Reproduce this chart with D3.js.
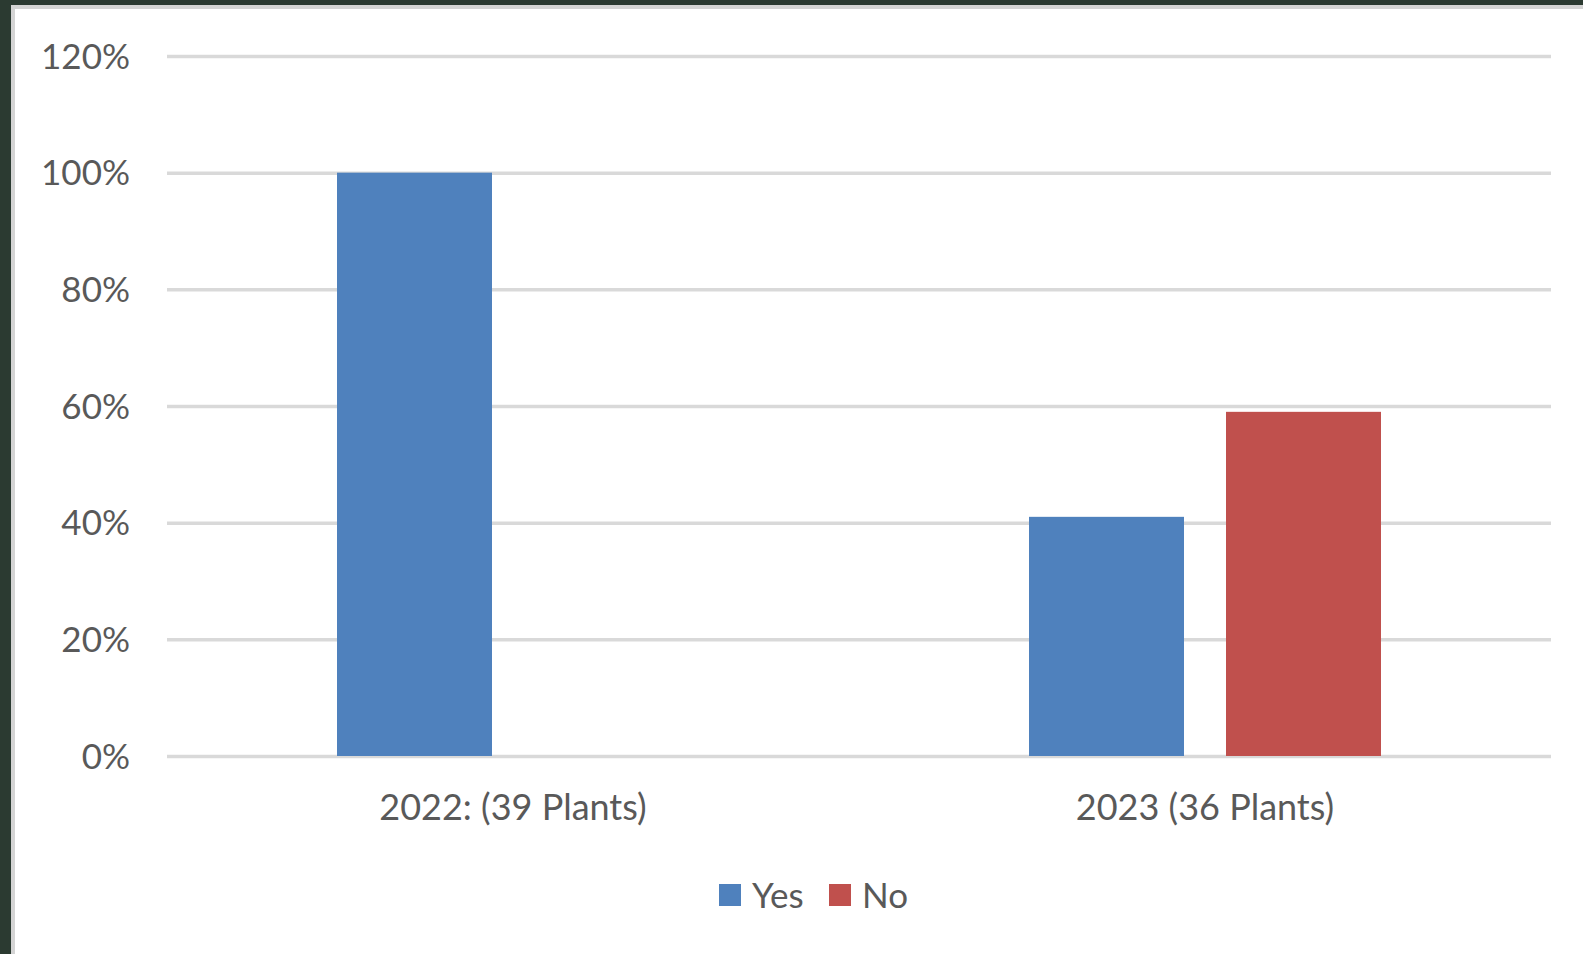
<!DOCTYPE html>
<html>
<head>
<meta charset="utf-8">
<script src="https://cdn.jsdelivr.net/npm/d3@7"></script>
<style>
html,body{margin:0;padding:0;background:#2b3a31;}
svg{display:block;}
</style>
</head>
<body>
<script>
const categories = ["2022: (39 Plants)", "2023 (36 Plants)"];
const seriesNames = ["Yes", "No"];
const yesValues = [1.00, 0.41];
const noValues = [0.00, 0.59];
const yTicks = [0, 0.2, 0.4, 0.6, 0.8, 1.0, 1.2];
const colors = ["#4f81bd", "#c0504d"];

const W = 1583, H = 954;
const svg = d3.select("body").append("svg").attr("width", W).attr("height", H);

// background and panel
svg.append("rect").attr("x", 0).attr("y", 0).attr("width", W).attr("height", H).attr("fill", "#2b3a31");
svg.append("rect").attr("x", 11).attr("y", 5).attr("width", W - 11).attr("height", H - 5).attr("fill", "#d4d4d4");
svg.append("rect").attr("x", 15).attr("y", 9).attr("width", W - 15).attr("height", H - 9).attr("fill", "#ffffff");

const plot = {left: 167, right: 1551, top: 56, bottom: 756};
const font = "Lato, 'Open Sans', sans-serif";

const x0 = d3.scaleBand().domain(categories).range([plot.left, plot.right]).paddingInner(0).paddingOuter(0);
const y = d3.scaleLinear().domain([0, 1.2]).range([plot.bottom, plot.top]);

const bw = 155, gap = 42;
const x1 = d3.scaleOrdinal().domain(seriesNames).range([-(bw + gap / 2) , gap / 2]);

// gridlines
const yAxis = d3.axisLeft(y).tickValues(yTicks).tickSize(-(plot.right - plot.left)).tickFormat(d => Math.round(d * 100) + "%").tickPadding(37);
const gAxis = svg.append("g").attr("transform", `translate(${plot.left},0)`).call(yAxis);
gAxis.select(".domain").remove();
gAxis.selectAll(".tick line").attr("stroke", "#d9d9d9").attr("stroke-width", 3.5);
gAxis.selectAll(".tick text").attr("fill", "#595959").attr("font-family", font).attr("font-size", 35).attr("dy", "0.35em");

// bars
const data = categories.map((c, i) => ({cat: c, values: [{s: "Yes", v: yesValues[i]}, {s: "No", v: noValues[i]}]}));
const groups = svg.append("g").selectAll("g").data(data).join("g")
  .attr("transform", d => `translate(${x0(d.cat) + x0.bandwidth() / 2},0)`);
groups.selectAll("rect").data(d => d.values.filter(e => e.v > 0)).join("rect")
  .attr("x", d => x1(d.s))
  .attr("y", d => y(d.v))
  .attr("width", bw)
  .attr("height", d => y(0) - y(d.v))
  .attr("fill", (d) => colors[seriesNames.indexOf(d.s)]);

// category axis labels
const xAxis = d3.axisBottom(x0).tickSize(0).tickPadding(0);
const gx = svg.append("g").attr("transform", `translate(0,${plot.bottom})`).call(xAxis);
gx.select(".domain").remove();
gx.selectAll(".tick text").attr("fill", "#595959").attr("font-family", font).attr("font-size", 36)
  .attr("y", 64).attr("dy", 0);

// legend
const legend = svg.append("g").attr("font-family", font).attr("font-size", 35).attr("fill", "#595959");
const legX = [719, 829];
seriesNames.forEach((s, i) => {
  legend.append("rect").attr("x", legX[i]).attr("y", 884).attr("width", 22).attr("height", 22).attr("fill", colors[i]);
  legend.append("text").attr("x", legX[i] + 33).attr("y", 908).text(s);
});
</script>
</body>
</html>
